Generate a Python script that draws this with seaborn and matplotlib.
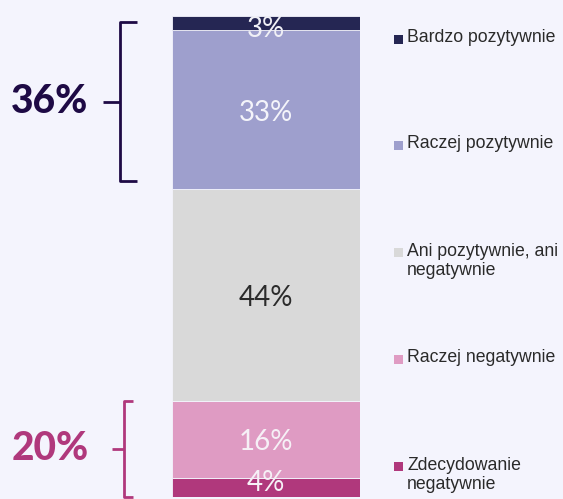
import seaborn as sns
from matplotlib import pyplot as plt
from matplotlib import transforms
from matplotlib.lines import Line2D
from matplotlib.patches import Rectangle

# segments from bottom to top
categories = ["Zdecydowanie\nnegatywnie", "Raczej negatywnie",
              "Ani pozytywnie, ani\nnegatywnie", "Raczej pozytywnie",
              "Bardzo pozytywnie"]
values = [4, 16, 44, 33, 3]
colors = ["#b0387c", "#df9bc3", "#d9d9d9", "#9e9fcd", "#252653"]
label_colors = ["#f6f0f6", "#f6f0f6", "#2b2b2b", "#f4f4fa", "#f0f0f6"]
label_shift = [3.5, -2, -2, -2, -4]   # points, so small labels stay readable

positive_total = "36%"
negative_total = "20%"

bg = "#f4f4fd"
W, H = 563, 499

sns.set_theme(style="white")
plt.rcParams['font.family'] = ['Lato', 'DejaVu Sans']

fig = plt.figure(figsize=(W / 100, H / 100), dpi=100, facecolor=bg)
ax = fig.add_axes([172 / W, 2 / H, 188 / W, 481 / H])
ax.set_facecolor(bg)

bottom = 0
for cat, val, col, lc, dy in zip(categories, values, colors, label_colors, label_shift):
    sns.barplot(x=["x"], y=[val], bottom=bottom, color=col, width=1.0,
                saturation=1, edgecolor=bg, linewidth=0.6, ax=ax)
    ax.annotate(f"{val}%", (0, bottom + val / 2), xytext=(0, dy),
                textcoords="offset points", ha="center", va="center",
                fontsize=20, fontweight="normal", color=lc, clip_on=False,
                zorder=5)
    bottom += val

ax.set_xlim(-0.5, 0.5)
ax.set_ylim(0, 100)
ax.axis("off")

# brackets on the left (x in figure pixels, y in data units)
trans = transforms.blended_transform_factory(
    transforms.Affine2D().scale(1 / W, 1) + fig.transFigure, ax.transData)


def bracket(y0, y1, x_line, x_end, x_mid, color, text):
    kw = dict(color=color, lw=2, transform=trans, clip_on=False,
              solid_capstyle="butt")
    fig.add_artist(Line2D([x_end, x_line, x_line, x_end], [y0, y0, y1, y1], **kw))
    ym = (y0 + y1) / 2
    fig.add_artist(Line2D([x_mid, x_line], [ym, ym], **kw))
    fig.text(50, ym, text, transform=trans,
             ha="center", va="center", fontsize=28, fontweight="black",
             color=color)


bracket(100 - sum(values[3:]) + 1.7, 100 - 1.3, 120, 137, 103, "#1e0a45",
        positive_total)
bracket(0, sum(values[:2]), 124, 133, 112, "#b0387c", negative_total)

# legend, placed beside the bar
legend_y = [466, 359, 252, 145, 39]
for cat, col, y in zip(categories, colors, legend_y):
    fig.add_artist(Rectangle((394 / W, 1 - (y + 5) / H), 9 / W, 9 / H,
                             facecolor=col, edgecolor="none",
                             transform=fig.transFigure))
    fig.text(407 / W, 1 - (y - 9.5) / H, cat, ha="left", va="top",
             fontsize=12.7, color="#2a2a2a", linespacing=1.2,
             family=["Liberation Sans", "DejaVu Sans"])

fig.savefig("out.png", dpi=100, facecolor=bg)
